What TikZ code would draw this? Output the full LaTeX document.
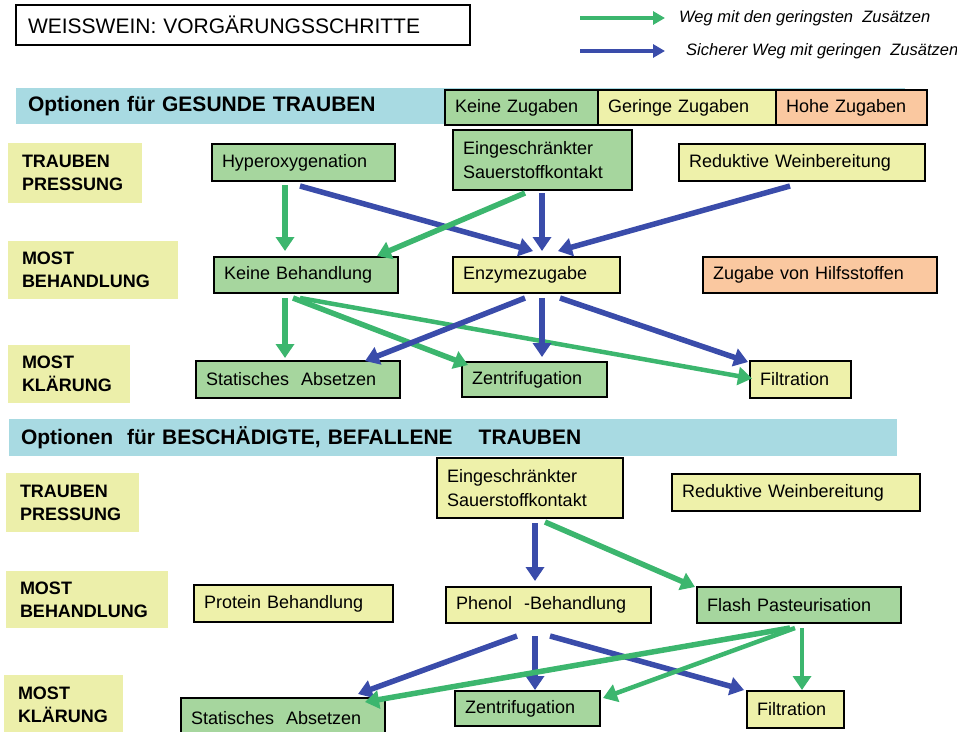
\documentclass[tikz,border=0pt]{standalone}
\usepackage{fontspec}
\setmainfont{Liberation Sans}
\usetikzlibrary{arrows.meta,calc}
\definecolor{gfill}{RGB}{166,214,158}
\definecolor{yfill}{RGB}{238,241,170}
\definecolor{ofill}{RGB}{250,200,160}
\definecolor{bandfill}{RGB}{168,218,226}
\definecolor{labfill}{RGB}{236,239,170}
\definecolor{garrow}{RGB}{60,182,110}
\definecolor{barrow}{RGB}{58,76,170}
\tikzset{
  box/.style={draw=black, line width=2.4pt, anchor=north west, outer sep=0pt, inner xsep=10pt, inner ysep=0pt, align=left, font=\fontsize{18}{24}\selectfont},
  gbox/.style={box, fill=gfill},
  ybox/.style={box, fill=yfill},
  obox/.style={box, fill=ofill},
  rowlab/.style={fill=labfill, anchor=north west, outer sep=0pt, inner xsep=14pt, inner ysep=0pt, align=left, font=\fontsize{18}{23}\selectfont\bfseries},
  band/.style={fill=bandfill, anchor=north west, outer sep=0pt, inner xsep=12pt, inner ysep=0pt, align=left, font=\fontsize{21}{24}\selectfont\bfseries},
  legtext/.style={anchor=west, inner sep=0pt, font=\fontsize{16.5}{18}\selectfont\itshape},
  garr/.style={draw=garrow, line width=5.5pt, -{Triangle[width=18pt,length=14pt]}},
  barr/.style={draw=barrow, line width=5.5pt, -{Triangle[width=18pt,length=14pt]}},
  lgarr/.style={line width=4.5pt, -{Triangle[width=13pt,length=12pt]}},
}
\begin{document}
\begin{tikzpicture}[x=1pt,y=-1pt]
\useasboundingbox (0,0) rectangle (957,731);

% title and legend
\node[box, fill=white, inner xsep=12pt, minimum height=40pt, text width=430pt, font=\fontsize{21}{24}\selectfont] (title) at (16,5) {WEISSWEIN: VORGÄRUNGSSCHRITTE};
\coordinate (lga) at (580,18);
\coordinate (lgb) at (665,18);
\coordinate (lba) at (580,51);
\coordinate (lbb) at (665,51);
\draw[lgarr, draw=garrow] (lga) -- (lgb);
\draw[lgarr, draw=barrow] (lba) -- (lbb);
\node[legtext] (lgt) at (679,18) {Weg mit den geringsten\ \ Zusätzen};
\node[legtext] (lbt) at (686,51) {Sicherer Weg mit geringen\ \ Zusätzen};

% section 1
\node[band, minimum height=36pt, text width=865pt] (band1) at (16,88) {Optionen für GESUNDE TRAUBEN};
\node[gbox, minimum height=35pt, text width=133pt] (kz) at (445,90) {Keine Zugaben};
\node[ybox, minimum height=35pt, text width=158pt] (gz) at (598,90) {Geringe Zugaben};
\node[obox, minimum height=35pt, text width=131pt] (hz) at (776,90) {Hohe Zugaben};

\node[rowlab, minimum height=60pt, text width=106pt] (rla) at (8,143) {TRAUBEN\\PRESSUNG};
\node[rowlab, minimum height=58pt, text width=142pt] (rlb) at (8,241) {MOST\\BEHANDLUNG};
\node[rowlab, minimum height=58pt, text width=94pt] (rlc) at (8,345) {MOST\\KLÄRUNG};

\node[gbox, minimum height=37pt, text width=163pt] (hyp) at (212,144) {Hyperoxygenation};
\node[gbox, minimum height=60pt, text width=159pt] (eina) at (453,130) {Eingeschränkter\\Sauerstoffkontakt};
\node[ybox, minimum height=37pt, text width=226pt] (reda) at (679,144) {Reduktive Weinbereitung};
\node[gbox, minimum height=36pt, text width=164pt] (kb) at (214,257) {Keine Behandlung};
\node[ybox, minimum height=36pt, text width=147pt] (enz) at (453,257) {Enzymezugabe};
\node[obox, minimum height=36pt, text width=214pt] (zvh) at (703,257) {Zugabe von Hilfsstoffen};
\node[gbox, minimum height=37pt, text width=184pt] (staa) at (196,361) {Statisches\ \ Absetzen};
\node[gbox, minimum height=35pt, text width=125pt] (zena) at (462,362) {Zentrifugation};
\node[ybox, minimum height=37pt, text width=81pt] (fila) at (750,361) {Filtration};

% section 2
\node[band, minimum height=37pt, text width=864pt] (band2) at (9,419) {Optionen\ \ für BESCHÄDIGTE, BEFALLENE\hspace{26pt}TRAUBEN};
\node[rowlab, minimum height=59pt, text width=105pt] (rld) at (6,473) {TRAUBEN\\PRESSUNG};
\node[rowlab, minimum height=57pt, text width=134pt] (rle) at (6,571) {MOST\\BEHANDLUNG};
\node[rowlab, minimum height=60pt, text width=91pt] (rlf) at (4,675) {MOST\\KLÄRUNG};

\node[ybox, minimum height=60pt, text width=166pt] (einb) at (437,458) {Eingeschränkter\\Sauerstoffkontakt};
\node[ybox, minimum height=37pt, text width=228pt] (redb) at (672,474) {Reduktive Weinbereitung};
\node[ybox, minimum height=37pt, text width=179pt] (pro) at (194,585) {Protein Behandlung};
\node[ybox, minimum height=36pt, text width=185pt] (phe) at (446,587) {Phenol\ \ -Behandlung};
\node[gbox, minimum height=36pt, text width=184pt] (fla) at (697,587) {Flash Pasteurisation};
\node[gbox, minimum height=40pt, text width=184pt] (stab) at (181,698) {Statisches\ \ Absetzen};
\node[gbox, minimum height=35pt, text width=125pt] (zenb) at (455,691) {Zentrifugation};
\node[ybox, minimum height=37pt, text width=77pt] (filb) at (747,691) {Filtration};

% arrows section 1
\draw[garr] ($(hyp.south west)+(73,4)$) -- ($(kb.north west)+(71,-6)$);
\draw[barr] ($(hyp.south west)+(88,5)$) -- ($(enz.north west)+(80,-6)$);
\draw[garr] ($(eina.south west)+(72,3)$) -- ($(kb.north east)+(-21,-1)$);
\draw[barr] ($(eina.south west)+(89,3)$) -- ($(enz.north west)+(89,-6)$);
\draw[barr] ($(reda.south west)+(111,5)$) -- ($(enz.north west)+(105,-6)$);
\draw[garr] ($(kb.south west)+(71,5)$) -- ($(staa.north west)+(89,-3)$);
\draw[garr] ($(kb.south west)+(79,5)$) -- ($(zena.north west)+(6,3)$);
\draw[garr, line width=4.5pt] ($(kb.south west)+(86,5)$) -- ($(fila.west)+(2,-1)$);
\draw[barr] ($(enz.south west)+(72,5)$) -- ($(staa.north east)+(-35,0)$);
\draw[barr] ($(enz.south west)+(89,5)$) -- ($(zena.north west)+(80,-5)$);
\draw[barr] ($(enz.south west)+(107,5)$) -- ($(fila.north west)+(-2,1)$);

% arrows section 2
\draw[barr] ($(einb.south west)+(98,5)$) -- ($(phe.north west)+(89,-6)$);
\draw[garr] ($(einb.south west)+(108,4)$) -- ($(fla.north west)+(-2,0)$);
\draw[barr] ($(phe.south west)+(71,13)$) -- ($(stab.north east)+(-27,-4)$);
\draw[barr] ($(phe.south west)+(89,13)$) -- ($(zenb.north west)+(80,-1)$);
\draw[barr] ($(phe.south west)+(104,13)$) -- ($(filb.north west)+(-3,-1)$);
\draw[garr] ($(fla.south west)+(93,5)$) -- ($(stab.north east)+(-20,4)$);
\draw[garr, line width=4.5pt] ($(fla.south west)+(98,5)$) -- ($(zenb.north east)+(3,7)$);
\draw[garr, line width=4.5pt] ($(fla.south west)+(105,5)$) -- ($(filb.north west)+(55,-1)$);
\end{tikzpicture}
\end{document}
